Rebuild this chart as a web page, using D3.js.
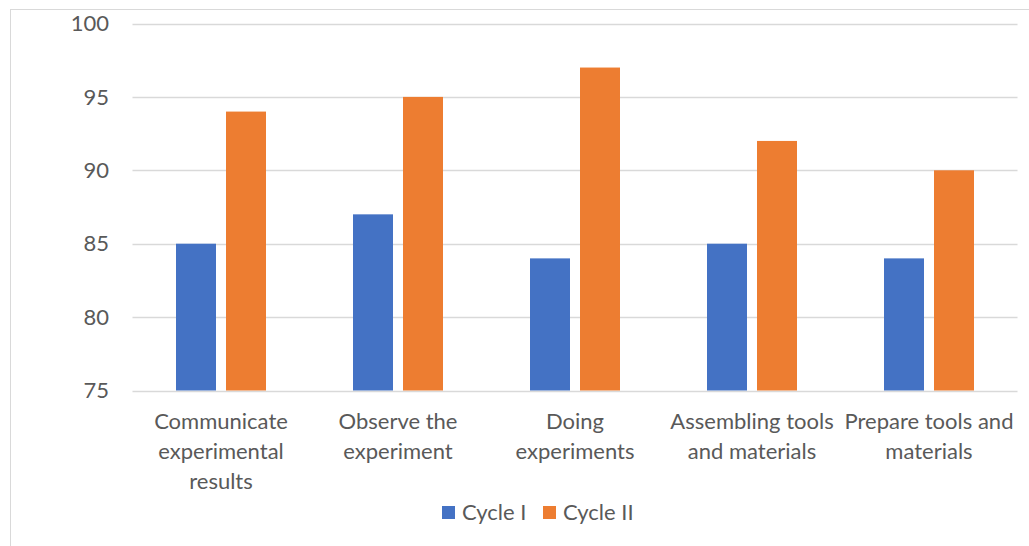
<!DOCTYPE html>
<html><head><meta charset="utf-8">
<script src="https://cdn.jsdelivr.net/npm/d3@7"></script>
<style>
html,body{margin:0;padding:0;background:#fff;}
svg{display:block;}
text{font-family:Lato,"Open Sans",sans-serif;fill:#595959;}
</style></head>
<body>
<svg id="chart" width="1029" height="546"></svg>
<script>
const categories = [
  ["Communicate", "experimental", "results"],
  ["Observe the", "experiment"],
  ["Doing", "experiments"],
  ["Assembling tools", "and materials"],
  ["Prepare tools and", "materials"]
];
const seriesNames = ["Cycle I", "Cycle II"];
const cycle1 = [85, 87, 84, 85, 84];
const cycle2 = [94, 95, 97, 92, 90];
const yTicks = [75, 80, 85, 90, 95, 100];
const colors = ["#4472C4", "#ED7D31"];

(function () {
const fs = 22;
const svg = d3.select("#chart");
svg.append("rect").attr("x", 10.5).attr("y", 9.5).attr("width", 1100).attr("height", 600)
  .attr("fill", "none").attr("stroke", "#d9d9d9").attr("stroke-width", 1);

const pLeft = 132.5, pRight = 1017.5, pTop = 23.5, pBottom = 390.5;
const idx = categories.map((d, i) => i);
const x = d3.scaleBand().domain(idx).range([pLeft, pRight]).padding(0);
const y = d3.scaleLinear().domain([75, 100]).range([pBottom, pTop]);
const x1 = d3.scaleBand().domain([0, 1]).range([0, 90]).paddingInner(0.2);

svg.append("g").selectAll("line").data(yTicks).join("line")
  .attr("x1", pLeft).attr("x2", pRight)
  .attr("y1", d => Math.round(y(d)) + 0.5).attr("y2", d => Math.round(y(d)) + 0.5)
  .attr("stroke", "#d9d9d9").attr("stroke-width", 1.3);

svg.append("g").selectAll("text").data(yTicks).join("text")
  .attr("x", 109).attr("y", d => y(d)).attr("dy", "0.35em")
  .attr("text-anchor", "end").attr("font-size", fs).text(d => d);

const series = [cycle1, cycle2];
series.forEach((vals, s) => {
  svg.append("g").selectAll("rect").data(vals).join("rect")
    .attr("x", (d, i) => x(i) + x.bandwidth() / 2 - 45 + x1(s))
    .attr("width", x1.bandwidth())
    .attr("y", d => y(d))
    .attr("height", d => y(75) - y(d))
    .attr("fill", colors[s]);
});

const xl = svg.append("g").selectAll("text").data(categories).join("text")
  .attr("text-anchor", "middle").attr("font-size", fs)
  .attr("transform", (d, i) => `translate(${x(i) + x.bandwidth() / 2},429)`);
xl.selectAll("tspan").data(d => d).join("tspan")
  .attr("x", 0).attr("y", (d, j) => j * 30).text(d => d);

const legX = [442, 543];
seriesNames.forEach((n, s) => {
  svg.append("rect").attr("x", legX[s]).attr("y", 506).attr("width", 13).attr("height", 13).attr("fill", colors[s]);
  svg.append("text").attr("x", legX[s] + 20).attr("y", 520).attr("font-size", fs).text(n);
});
})();
</script>
</body></html>
